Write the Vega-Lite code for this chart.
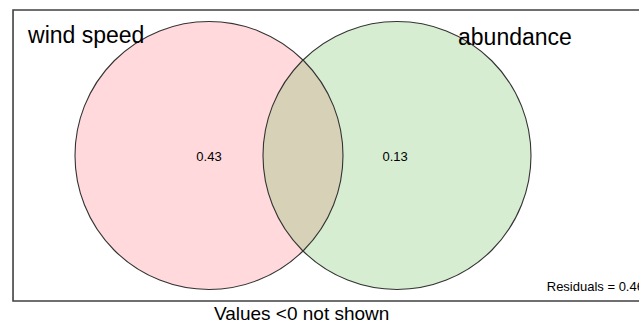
{
  "$schema": "https://vega.github.io/schema/vega-lite/v6.json",
  "width": 639,
  "height": 324,
  "autosize": "none",
  "padding": 0,
  "background": "white",
  "config": {"view": {"stroke": null}, "font": "Liberation Sans"},
  "datasets": {
    "sets": [
      {"set": "wind speed", "cx": -0.7015, "cy": 0},
      {"set": "abundance", "cx": 0.7015, "cy": 0}
    ],
    "frame": [{"x0": -2.164, "x1": 2.9, "y0": -1.086, "y1": 1.086}],
    "setLabels": [
      {"label": "wind speed", "lx": -2.052, "ly": 0.836},
      {"label": "abundance", "lx": 1.157, "ly": 0.825}
    ],
    "fractions": [
      {"value": "0.43", "vx": -0.7015, "vy": -0.012},
      {"value": "0.13", "vx": 0.687, "vy": -0.012}
    ],
    "residuals": [{"text": "Residuals = 0.46", "rx": 1.819, "ry": -0.981}],
    "note": [{"text": "Values <0 not shown", "nx": -0.01, "ny": -1.231}]
  },
  "layer": [
    {
      "data": {"name": "frame"},
      "mark": {"type": "rect", "fill": null, "stroke": "#404040", "strokeWidth": 1.6, "clip": false},
      "encoding": {
        "x": {"field": "x0", "type": "quantitative", "scale": {"domain": [-2.2612, 2.5075], "nice": false, "zero": false}, "axis": null},
        "x2": {"field": "x1"},
        "y": {"field": "y0", "type": "quantitative", "scale": {"domain": [-1.2575, 1.1604], "nice": false, "zero": false}, "axis": null},
        "y2": {"field": "y1"}
      }
    },
    {
      "data": {"name": "sets"},
      "mark": {"type": "point", "shape": "circle", "filled": true, "size": 71824, "strokeWidth": 0, "opacity": 1},
      "encoding": {
        "x": {"field": "cx", "type": "quantitative", "scale": {"domain": [-2.2612, 2.5075], "nice": false, "zero": false}, "axis": null},
        "y": {"field": "cy", "type": "quantitative", "scale": {"domain": [-1.2575, 1.1604], "nice": false, "zero": false}, "axis": null},
        "fill": {
          "field": "set",
          "type": "nominal",
          "scale": {"domain": ["wind speed", "abundance"], "range": ["rgba(255,0,20,0.15)", "rgba(100,185,80,0.26)"]},
          "legend": null
        }
      }
    },
    {
      "data": {"name": "sets"},
      "mark": {"type": "point", "shape": "circle", "filled": false, "size": 71824, "stroke": "#333333", "strokeWidth": 1.1, "opacity": 1},
      "encoding": {
        "x": {"field": "cx", "type": "quantitative", "scale": {"domain": [-2.2612, 2.5075], "nice": false, "zero": false}, "axis": null},
        "y": {"field": "cy", "type": "quantitative", "scale": {"domain": [-1.2575, 1.1604], "nice": false, "zero": false}, "axis": null}
      }
    },
    {
      "data": {"name": "setLabels"},
      "mark": {"type": "text", "align": "left", "baseline": "alphabetic", "fontSize": 23, "color": "#000000"},
      "encoding": {
        "x": {"field": "lx", "type": "quantitative", "scale": {"domain": [-2.2612, 2.5075], "nice": false, "zero": false}, "axis": null},
        "y": {"field": "ly", "type": "quantitative", "scale": {"domain": [-1.2575, 1.1604], "nice": false, "zero": false}, "axis": null},
        "text": {"field": "label"}
      }
    },
    {
      "data": {"name": "fractions"},
      "mark": {"type": "text", "align": "center", "baseline": "middle", "fontSize": 13, "color": "#000000"},
      "encoding": {
        "x": {"field": "vx", "type": "quantitative", "scale": {"domain": [-2.2612, 2.5075], "nice": false, "zero": false}, "axis": null},
        "y": {"field": "vy", "type": "quantitative", "scale": {"domain": [-1.2575, 1.1604], "nice": false, "zero": false}, "axis": null},
        "text": {"field": "value"}
      }
    },
    {
      "data": {"name": "residuals"},
      "mark": {"type": "text", "align": "left", "baseline": "middle", "fontSize": 13, "color": "#000000"},
      "encoding": {
        "x": {"field": "rx", "type": "quantitative", "scale": {"domain": [-2.2612, 2.5075], "nice": false, "zero": false}, "axis": null},
        "y": {"field": "ry", "type": "quantitative", "scale": {"domain": [-1.2575, 1.1604], "nice": false, "zero": false}, "axis": null},
        "text": {"field": "text"}
      }
    },
    {
      "data": {"name": "note"},
      "mark": {"type": "text", "align": "center", "baseline": "alphabetic", "fontSize": 19, "color": "#000000"},
      "encoding": {
        "x": {"field": "nx", "type": "quantitative", "scale": {"domain": [-2.2612, 2.5075], "nice": false, "zero": false}, "axis": null},
        "y": {"field": "ny", "type": "quantitative", "scale": {"domain": [-1.2575, 1.1604], "nice": false, "zero": false}, "axis": null},
        "text": {"field": "text"}
      }
    }
  ]
}
